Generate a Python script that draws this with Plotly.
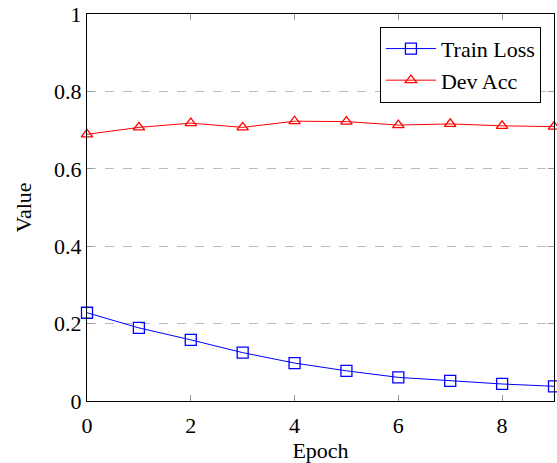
import plotly.graph_objects as go

epochs = [0, 1, 2, 3, 4, 5, 6, 7, 8, 9]
train_loss = [0.228, 0.189, 0.158, 0.125, 0.098, 0.078, 0.061, 0.052, 0.044, 0.038]
dev_acc = [0.689, 0.707, 0.718, 0.707, 0.723, 0.722, 0.713, 0.716, 0.711, 0.709]
x_ticks = [0, 2, 4, 6, 8]
y_ticks = [0, 0.2, 0.4, 0.6, 0.8, 1]
y_tick_labels = ["0", "0.2", "0.4", "0.6", "0.8", "1"]

font = "Liberation Serif, Times New Roman, serif"
fs = 22

fig = go.Figure()
fig.add_trace(go.Scatter(
    x=epochs, y=train_loss, name="Train Loss", mode="lines+markers",
    line=dict(color="#0000ff", width=1),
    marker=dict(symbol="square-open", size=11, color="#0000ff", line=dict(width=1.3)),
    cliponaxis=False,
))
fig.add_trace(go.Scatter(
    x=epochs, y=dev_acc, name="Dev Acc", mode="lines+markers",
    line=dict(color="#ff0000", width=1),
    marker=dict(symbol="triangle-up-open", size=10, color="#ff0000", line=dict(width=1.3)),
    cliponaxis=False,
))

fig.update_layout(
    width=557, height=463,
    margin=dict(l=87, r=3, t=14, b=62, autoexpand=False),
    paper_bgcolor="white", plot_bgcolor="white",
    font=dict(family=font, size=fs, color="black"),
    showlegend=True,
    legend=dict(
        x=0.972, y=0.967, xanchor="right", yanchor="top",
        bordercolor="black", borderwidth=1, bgcolor="white",
        font=dict(family=font, size=22),
        tracegroupgap=0, itemwidth=50,
    ),
    xaxis=dict(
        range=[0, 9], tickvals=x_ticks, ticks="inside", ticklen=6,
        tickcolor="#999999", showgrid=False, zeroline=False,
        showline=True, linecolor="black", linewidth=1, mirror="allticks",
        ticklabelstandoff=5,
        title=dict(text="Epoch", standoff=4, font=dict(family=font, size=fs)),
        tickfont=dict(family=font, size=fs),
    ),
    yaxis=dict(
        range=[0, 1], tickvals=y_ticks, ticktext=y_tick_labels, ticks="inside", ticklen=6,
        tickcolor="#999999", showgrid=True, gridcolor="#bbbbbb", griddash="dash", gridwidth=1,
        zeroline=False,
        showline=True, linecolor="black", linewidth=1, mirror="allticks",
        title=dict(text="Value", standoff=16, font=dict(family=font, size=fs)),
        tickfont=dict(family=font, size=fs),
    ),
)

fig.write_html("out.html", config={"displayModeBar": False},
               post_script="document.body.style.margin='0';")
